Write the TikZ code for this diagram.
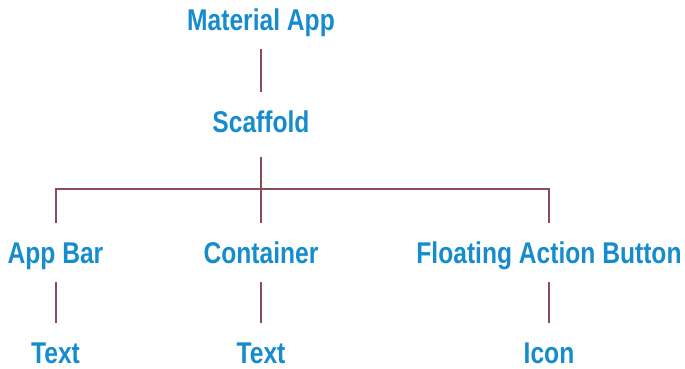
\documentclass[tikz,border=0pt]{standalone}
\usepackage{fontspec}
\setmainfont{Liberation Sans}[FakeStretch=0.82,UprightFont=* Bold]
\definecolor{txtblue}{RGB}{22,140,204}
\definecolor{linered}{RGB}{140,76,88}
\begin{document}
\begin{tikzpicture}[x=1pt,y=1pt,
  lbl/.style={text=txtblue,font=\fontsize{30}{31}\selectfont,anchor=base,
    text height=21pt,text depth=0pt,inner xsep=0pt,inner ysep=19pt},
  conn/.style={draw=linered,line width=2pt,line join=miter}]
\useasboundingbox (0,0) rectangle (685,-368);
\node[lbl] (ma) at (261,-30) {Material App};
\node[lbl] (sc) at (261,-132) {Scaffold};
\node[lbl] (ab) at (55.5,-263) {App Bar};
\node[lbl] (ct) at (261,-263) {Container};
\node[lbl] (fab) at (549,-263) {Floating Action Button};
\node[lbl] (t1) at (55.5,-363) {Text};
\node[lbl] (t2) at (261,-363) {Text};
\node[lbl] (ic) at (549,-363) {Icon};
\draw[conn] (ma.south) -- (sc.north);
\draw[conn] (sc.south) ++(0,-6) coordinate (scb);
\draw[conn] (scb) -- (ct.north);
\draw[conn] (ab.north) -- ++(0,34) -| (fab.north);
\draw[conn] (ab.south) -- (t1.north);
\draw[conn] (ct.south) -- (t2.north);
\draw[conn] (fab.south) -- (ic.north);
\end{tikzpicture}
\end{document}
